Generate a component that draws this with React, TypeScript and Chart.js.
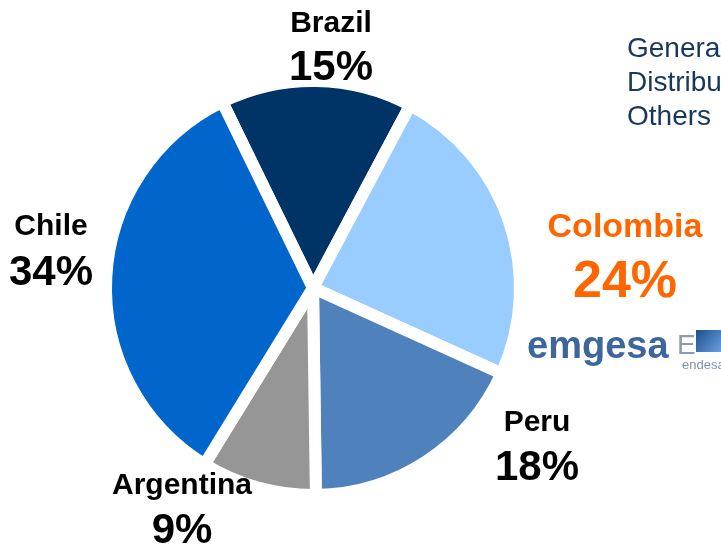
import React, { useEffect, useRef } from "react";
import { Chart, registerables } from "chart.js";

Chart.register(...registerables);

const countries = ["Brazil", "Colombia", "Peru", "Argentina", "Chile"];
const shares = [15, 24, 18, 9, 34];
const sliceColors = ["#003366", "#99CCFF", "#4F81BD", "#969696", "#0066CC"];
const labelColors = ["#000000", "#FF6600", "#000000", "#000000", "#000000"];
const legendLines = ["Generation", "Distribution", "Others"];
const logoText = "emgesa";
const logoSub = "endesa";

// label anchor layout (x, name baseline, pct baseline, name size, pct size)
const labelLayout = [
  { x: 331, yName: 32, yPct: 80, fName: 30, fPct: 42 },
  { x: 625, yName: 237, yPct: 297, fName: 34, fPct: 52 },
  { x: 537, yName: 431, yPct: 480, fName: 30, fPct: 42 },
  { x: 182, yName: 494, yPct: 543, fName: 30, fPct: 42 },
  { x: 51, yName: 235, yPct: 285, fName: 30, fPct: 42 },
];

const FONT = 'Arial, "Liberation Sans", sans-serif';

const textPlugin = {
  id: "textPlugin",
  afterDraw(chart: any) {
    const ctx = chart.ctx as CanvasRenderingContext2D;
    ctx.save();
    ctx.textAlign = "center";
    ctx.textBaseline = "alphabetic";
    countries.forEach((name, i) => {
      const l = labelLayout[i];
      ctx.fillStyle = labelColors[i];
      ctx.font = `bold ${l.fName}px ${FONT}`;
      ctx.fillText(name, l.x, l.yName);
      ctx.font = `bold ${l.fPct}px ${FONT}`;
      ctx.fillText(`${shares[i]}%`, l.x, l.yPct);
    });
    // legend-like text top right (cut off)
    ctx.textAlign = "left";
    ctx.fillStyle = "#17375E";
    ctx.font = `28px ${FONT}`;
    legendLines.forEach((t, i) => {
      ctx.fillText(t, 627, 57 + i * 34);
    });
    // logo
    ctx.fillStyle = "#3D679B";
    ctx.font = `bold 38px ${FONT}`;
    ctx.fillText(logoText, 527, 358);
    ctx.fillStyle = "#8C9CB0";
    ctx.font = `28px ${FONT}`;
    ctx.fillText("E", 677, 354);
    const g = ctx.createLinearGradient(696, 330, 721, 352);
    g.addColorStop(0, "#1E4E8C");
    g.addColorStop(1, "#6A9FE0");
    ctx.fillStyle = g;
    ctx.fillRect(696, 330, 25, 22);
    ctx.fillStyle = "#7E93AE";
    ctx.font = `13px ${FONT}`;
    ctx.fillText(logoSub, 682, 369);
    ctx.restore();
  },
};

export default function App() {
  const ref = useRef<HTMLCanvasElement | null>(null);
  useEffect(() => {
    document.body.style.margin = "0";
    const chart = new Chart(ref.current as HTMLCanvasElement, {
      type: "pie",
      data: {
        labels: countries,
        datasets: [
          {
            data: shares,
            backgroundColor: sliceColors,
            borderColor: "#FFFFFF",
            borderWidth: 12,
          },
        ],
      },
      options: {
        animation: false,
        responsive: false,
        rotation: -26,
        layout: { padding: { left: 100, top: 75, right: 195, bottom: 49 } },
        plugins: {
          legend: { display: false },
          tooltip: { enabled: false },
        },
      },
      plugins: [textPlugin],
    });
    return () => chart.destroy();
  }, []);
  return (
    <div style={{ position: "absolute", left: 0, top: 0, width: 721, height: 550, background: "#fff" }}>
      <canvas ref={ref} width={721} height={550} />
    </div>
  );
}
